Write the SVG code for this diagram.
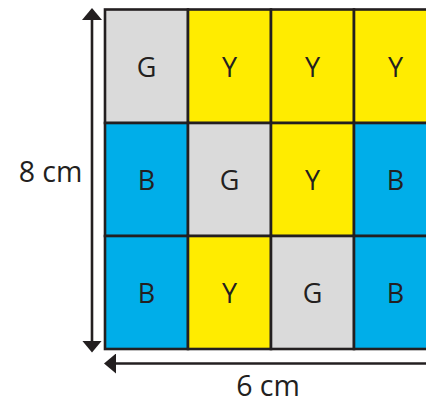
<svg xmlns="http://www.w3.org/2000/svg" width="426" height="404" viewBox="0 0 426 404">
<style>
.c{stroke:#231f20;stroke-width:2.6}
.g{fill:#dadada}.y{fill:#ffec00}.b{fill:#00aee9}
.t{font-family:"Open Sans","Noto Sans",sans-serif;font-size:27px;fill:#231f20;text-anchor:middle}
.d{font-family:"Open Sans","Noto Sans",sans-serif;font-size:28.5px;fill:#231f20;text-anchor:middle}
.ln{stroke:#231f20;stroke-width:2.6;fill:none}
</style>
<defs>
<marker id="ah" viewBox="0 0 12 20" refX="1" refY="10" markerWidth="12" markerHeight="20" markerUnits="userSpaceOnUse" orient="auto-start-reverse">
<path d="M0,0 L12,10 L0,20 Z" fill="#231f20"/>
</marker>
</defs>
<g id="grid">
<g id="r1c1"><rect class="c g" x="105" y="9.5" width="83" height="113.5"/><text class="t" x="146.5" y="76.5">G</text></g>
<g id="r1c2"><rect class="c y" x="188" y="9.5" width="83" height="113.5"/><text class="t" x="229.5" y="76.5">Y</text></g>
<g id="r1c3"><rect class="c y" x="271" y="9.5" width="83" height="113.5"/><text class="t" x="312.5" y="76.5">Y</text></g>
<g id="r1c4"><rect class="c y" x="354" y="9.5" width="83" height="113.5"/><text class="t" x="395.5" y="76.5">Y</text></g>
<g id="r2c1"><rect class="c b" x="105" y="123" width="83" height="113"/><text class="t" x="146.5" y="189.5">B</text></g>
<g id="r2c2"><rect class="c g" x="188" y="123" width="83" height="113"/><text class="t" x="229.5" y="189.5">G</text></g>
<g id="r2c3"><rect class="c y" x="271" y="123" width="83" height="113"/><text class="t" x="312.5" y="189.5">Y</text></g>
<g id="r2c4"><rect class="c b" x="354" y="123" width="83" height="113"/><text class="t" x="395.5" y="189.5">B</text></g>
<g id="r3c1"><rect class="c b" x="105" y="236" width="83" height="113"/><text class="t" x="146.5" y="303">B</text></g>
<g id="r3c2"><rect class="c y" x="188" y="236" width="83" height="113"/><text class="t" x="229.5" y="303">Y</text></g>
<g id="r3c3"><rect class="c g" x="271" y="236" width="83" height="113"/><text class="t" x="312.5" y="303">G</text></g>
<g id="r3c4"><rect class="c b" x="354" y="236" width="83" height="113"/><text class="t" x="395.5" y="303">B</text></g>
</g>
<g id="connectors">
<line class="ln" x1="92" y1="19" x2="92" y2="341.5" marker-start="url(#ah)" marker-end="url(#ah)"/>
<line class="ln" x1="115" y1="363.5" x2="430" y2="363.5" marker-start="url(#ah)"/>
</g>
<g id="labels">
<text class="d" x="50.5" y="181.5">8 cm</text>
<text class="d" x="268" y="396">6 cm</text>
</g>
</svg>
